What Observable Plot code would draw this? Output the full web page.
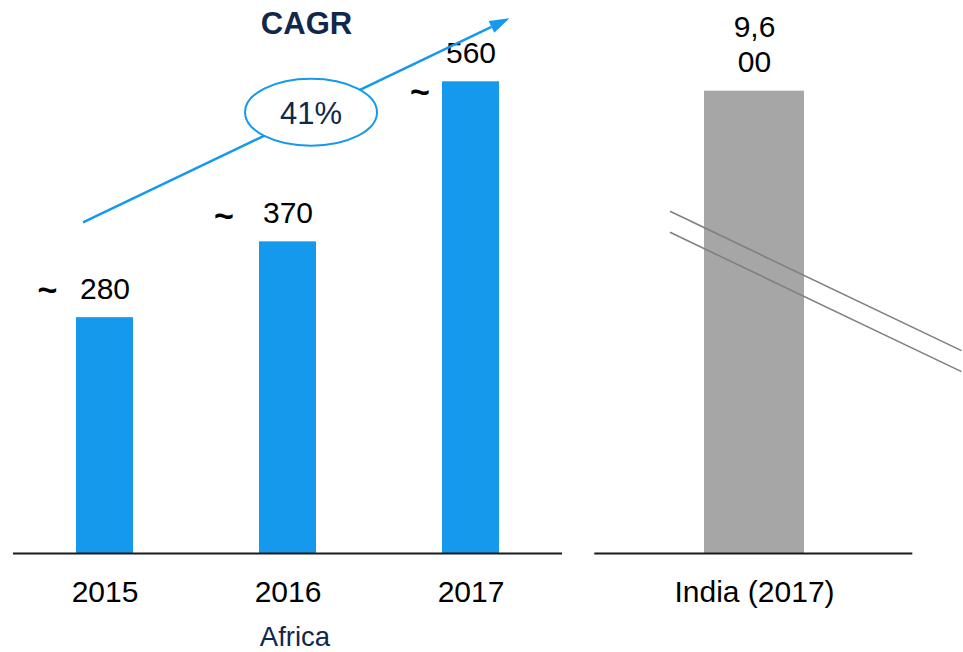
<!DOCTYPE html>
<html><head><meta charset="utf-8">
<script src="https://cdn.jsdelivr.net/npm/d3@7"></script>
<script src="https://cdn.jsdelivr.net/npm/@observablehq/plot@0.6"></script>
<style>
html,body{margin:0;padding:0;background:#fff;}
#wrap{position:relative;width:963px;height:652px;overflow:hidden;font-family:"Liberation Sans",Arial,sans-serif;}
#left{position:absolute;left:0;top:0;}
#right{position:absolute;left:580px;top:0;}
svg{overflow:visible;}
</style></head><body>
<div id="wrap"><div id="left"></div><div id="right"></div></div>
<script>
// ---- data ----
const years = ["2015", "2016", "2017"];
const africaValues = [280, 370, 560];
const africaLabels = ["280", "370", "560"];
const indiaCategory = ["India (2017)"];
const indiaValues = [9600];
const indiaLabels = ["9,6\n00"];
const cagrTitle = "CAGR";
const cagrValue = "41%";
const regionLabel = "Africa";
const approxSign = "~";

// ---- styling ----
const BLUE = "#1599ED", GRAY = "#A6A6A6", NAVY = "#10284B", BREAK = "#808080";
const FONT = '"Liberation Sans", Arial, sans-serif';
const H = 652, baseY = 553, pxPerUnit = 0.8423;

const africa = years.map((year, i) => ({year, value: africaValues[i], label: africaLabels[i]}));
const india = indiaCategory.map((name, i) => ({name, value: indiaValues[i], label: indiaLabels[i]}));

const tilde = (yr, dx, dy) => Plot.text(africa.filter(d => d.year === yr), {
  x: "year", y: "value", text: () => approxSign, lineAnchor: "middle",
  dx, dy, fontSize: 34, fontWeight: "bold", fill: "#000"
});

const leftPlot = Plot.plot({
  width: 580, height: H,
  marginLeft: 13, marginRight: 18, marginTop: 0, marginBottom: H - baseY,
  style: {fontFamily: FONT, fontSize: "30px", color: "#000", background: "transparent", overflow: "visible"},
  x: {domain: years, paddingInner: 0.6885, paddingOuter: 0.344, tickSize: 0, tickPadding: 27, label: null},
  y: {domain: [0, baseY / pxPerUnit], axis: null},
  marks: [
    Plot.barY(africa, {x: "year", y: "value", fill: BLUE}),
    Plot.ruleY([0], {stroke: "#1a1a1a", strokeWidth: 2}),
    Plot.text(africa, {x: "year", y: "value", text: "label", lineAnchor: "bottom", dy: -18.5, fontSize: 30, fill: "#000"}),
    tilde("2015", -57.5, -27.3),
    tilde("2016", -64, -25.4),
    tilde("2017", -51, 10.4),
    Plot.text([regionLabel], {frameAnchor: "bottom", text: d => d, dx: 7, dy: 92.5, lineAnchor: "bottom", fontSize: 27.5, fill: NAVY})
  ]
});
document.getElementById("left").appendChild(leftPlot);

// CAGR annotation, positioned through the plot's scales
{
  const sx = leftPlot.scale("x"), sy = leftPlot.scale("y");
  const bw = sx.bandwidth;
  const svg = d3.select(leftPlot);
  const g = svg.append("g");
  const x1 = sx.apply("2015") + 7, y1 = sy.apply(392.6);
  const x2 = sx.apply("2017") + bw + 10.5, y2 = sy.apply(634.8);
  const ang = Math.atan2(y2 - y1, x2 - x1);
  const L = 20, W = 6.5;
  const bx = x2 - L * Math.cos(ang), by = y2 - L * Math.sin(ang);
  g.append("line").attr("x1", x1).attr("y1", y1).attr("x2", bx).attr("y2", by)
    .attr("stroke", BLUE).attr("stroke-width", 2.5);
  g.append("path")
    .attr("d", `M${x2},${y2}L${bx - W * Math.sin(ang)},${by + W * Math.cos(ang)}L${bx + W * Math.sin(ang)},${by - W * Math.cos(ang)}Z`)
    .attr("fill", BLUE);
  const cx = (sx.apply("2016") + bw / 2) + 23.5, cy = sy.apply(523.3);
  g.append("ellipse").attr("cx", cx).attr("cy", cy).attr("rx", 66).attr("ry", 33.5)
    .attr("fill", "#fff").attr("stroke", BLUE).attr("stroke-width", 2);
  g.append("text").attr("x", cx).attr("y", cy + 11.8).attr("text-anchor", "middle")
    .attr("font-family", FONT).attr("font-size", 31).attr("fill", NAVY).text(cagrValue);
  g.append("text").attr("x", cx - 4.5).attr("y", 34).attr("text-anchor", "middle")
    .attr("font-family", FONT).attr("font-size", 31).attr("font-weight", "bold").attr("fill", NAVY).text(cagrTitle);
}

const rightPlot = Plot.plot({
  width: 383, height: H,
  marginLeft: 14.3, marginRight: 50.7, marginTop: 0, marginBottom: H - baseY,
  style: {fontFamily: FONT, fontSize: "30px", color: "#000", background: "transparent", overflow: "visible"},
  x: {domain: indiaCategory, paddingInner: 0.5, paddingOuter: 0.547, tickSize: 0, tickPadding: 27, label: null},
  y: {domain: [0, indiaValues[0] * baseY / (baseY - 90.7)], axis: null},
  marks: [
    Plot.barY(india, {x: "name", y: "value", fill: GRAY}),
    Plot.ruleY([0], {stroke: "#1a1a1a", strokeWidth: 2}),
    Plot.text(india, {x: "name", y: "value", text: "label", lineAnchor: "bottom", lineHeight: 1.19, dy: -19, fontSize: 30, fill: "#000"})
  ]
});
document.getElementById("right").appendChild(rightPlot);

// axis-break lines across the India bar
{
  const sx = rightPlot.scale("x");
  const svg = d3.select(rightPlot);
  const start = sx.apply(indiaCategory[0]) - 34;
  const slope = 0.478, end = 381.5;
  [211.3, 232.3].forEach(y0 => {
    svg.append("line").attr("x1", start).attr("y1", y0)
      .attr("x2", end).attr("y2", y0 + slope * (end - start))
      .attr("stroke", BREAK).attr("stroke-width", 1.6);
  });
}
</script>
</body></html>
